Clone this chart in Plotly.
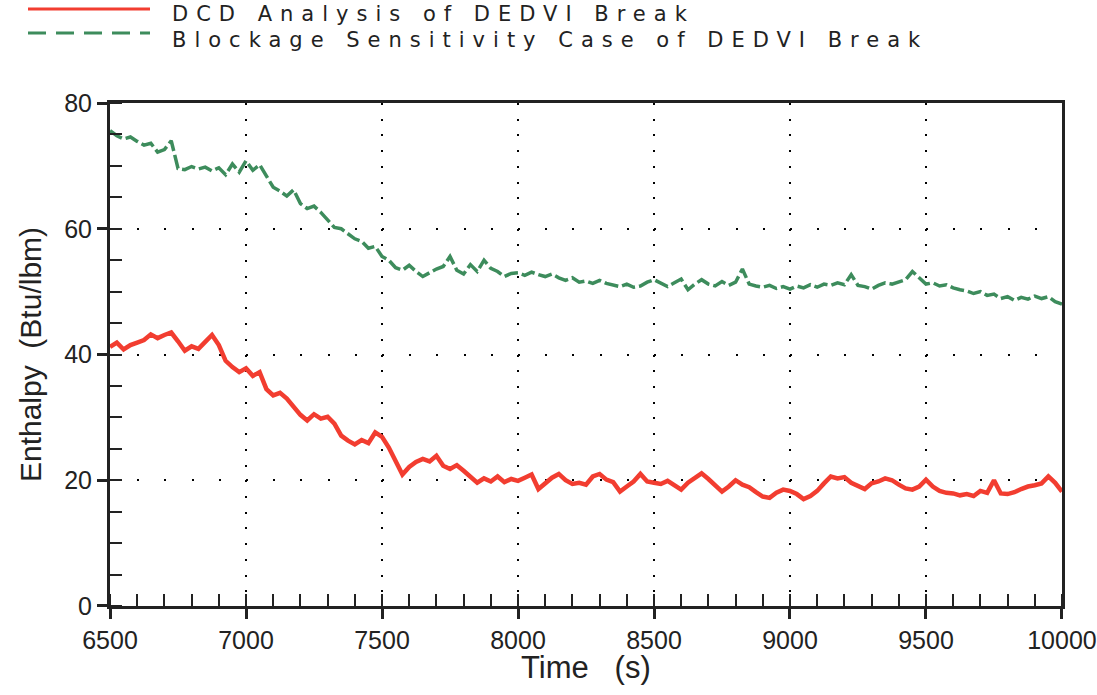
import plotly.graph_objects as go

# sample times (s), every 25 s from 6500 to 10000
time_s = list(range(6500, 10001, 25))

dcd_enthalpy = [
    41.2, 41.9, 40.8, 41.5, 41.9, 42.3, 43.2, 42.6, 43.1, 43.5, 42.1, 40.6, 41.3, 40.9, 42.0, 43.1, 41.5, 39.0, 38.0, 37.2,
    37.8, 36.6, 37.2, 34.5, 33.5, 33.9, 33.0, 31.8, 30.4, 29.5, 30.5, 29.8, 30.1, 29.0, 27.1, 26.3, 25.7, 26.4, 25.9, 27.6,
    26.9, 25.2, 23.0, 20.9, 22.1, 22.9, 23.4, 23.0, 23.9, 22.3, 21.8, 22.4, 21.5, 20.6, 19.6, 20.3, 19.8, 20.6, 19.7, 20.2,
    19.9, 20.4, 20.9, 18.6, 19.5, 20.4, 21.0, 20.0, 19.4, 19.6, 19.3, 20.6, 21.0, 20.1, 19.7, 18.2, 19.0, 19.8, 21.0, 19.8,
    19.6, 19.4, 19.9, 19.2, 18.5, 19.6, 20.4, 21.1, 20.2, 19.3, 18.2, 19.0, 20.0, 19.3, 18.9, 18.1, 17.4, 17.2, 18.0, 18.5,
    18.3, 17.8, 17.0, 17.5, 18.3, 19.5, 20.6, 20.3, 20.5, 19.6, 19.1, 18.6, 19.5, 19.8, 20.3, 20.0, 19.3, 18.7, 18.5, 19.0,
    20.1, 19.0, 18.3, 18.0, 17.9, 17.6, 17.8, 17.5, 18.3, 18.0, 20.0, 17.9, 17.8, 18.1, 18.6, 19.0, 19.2, 19.5, 20.6, 19.6,
    18.2,
]

blockage_enthalpy = [
    75.6, 74.8, 74.3, 74.6, 73.9, 73.3, 73.6, 72.2, 72.6, 74.0, 69.6, 69.4, 69.9, 69.5, 69.8, 69.2, 69.7, 68.6, 70.3, 69.0,
    70.8, 69.3, 70.2, 68.4, 66.6, 66.0, 65.2, 66.2, 64.0, 63.2, 63.6, 62.6, 61.4, 60.2, 60.0, 59.2, 58.4, 58.0, 56.9, 57.2,
    55.6, 55.0, 53.8, 53.4, 54.2, 53.2, 52.4, 53.0, 53.6, 54.0, 55.6, 53.4, 52.8, 54.3, 53.2, 55.0, 53.7, 53.2, 52.4, 52.9,
    53.0, 52.6, 53.1, 52.7, 52.4, 52.8, 52.2, 51.8, 52.2, 51.5, 51.7, 51.3, 51.8, 51.3, 51.0, 50.8, 51.2, 50.7, 50.9, 51.5,
    51.9, 51.3, 50.8, 51.4, 52.0, 50.3, 51.2, 51.9, 51.2, 50.9, 51.6, 51.0, 51.5, 53.6, 51.2, 50.9, 50.7, 51.0, 50.5, 50.8,
    50.4, 50.9, 50.6, 51.1, 50.7, 51.2, 51.0, 51.4, 51.1, 52.7, 51.0, 50.8, 50.4, 51.0, 51.4, 51.2, 51.6, 51.9, 53.2, 52.2,
    51.2, 51.4, 50.9, 51.1, 50.6, 50.3, 50.1, 49.7, 50.0, 49.4, 49.6, 48.9, 49.2, 48.6, 49.1, 48.8, 49.3, 48.9, 49.2, 48.4,
    48.0,
]

series_names = ["DCD Analysis of DEDVI Break", "Blockage Sensitivity Case of DEDVI Break"]
x_ticks = [6500, 7000, 7500, 8000, 8500, 9000, 9500, 10000]
y_ticks = [0, 20, 40, 60, 80]

RED = "#f23d30"
GREEN = "#3d8c5c"
INK = "#222222"
NUM_FONT = "Liberation Sans, Arial, sans-serif"

W, H = 1097, 695
ML, MR, MT, MB = 110, 35, 103, 89
PW, PH = W - ML - MR, H - MT - MB


def px_to_paper_x(px):
    return (px - ML) / PW


def px_to_paper_y(py):
    return 1 + (MT - py) / PH


fig = go.Figure()
fig.add_trace(go.Scatter(x=time_s, y=blockage_enthalpy, mode="lines", name=series_names[1],
                         line=dict(color=GREEN, width=3.5, dash="14px,4px"), showlegend=False))
fig.add_trace(go.Scatter(x=time_s, y=dcd_enthalpy, mode="lines", name=series_names[0],
                         line=dict(color=RED, width=4.5), showlegend=False))

# manual legend
legend_rows = [(series_names[0], RED, "solid", 9, 14), (series_names[1], GREEN, "18px,10px", 33, 40)]
for name, color, dash, line_py, text_py in legend_rows:
    fig.add_shape(type="line", xref="paper", yref="paper",
                  x0=px_to_paper_x(28), x1=px_to_paper_x(150),
                  y0=px_to_paper_y(line_py), y1=px_to_paper_y(line_py),
                  line=dict(color=color, width=3, dash=dash))
    fig.add_annotation(xref="paper", yref="paper", x=px_to_paper_x(170), y=px_to_paper_y(text_py),
                       xanchor="left", yanchor="middle", showarrow=False,
                       text=f'<span style="letter-spacing:8px">{name}</span>',
                       font=dict(family="DejaVu Sans, sans-serif", size=21, color=INK))

# x-axis title placed as annotation
fig.add_annotation(xref="paper", yref="paper", x=px_to_paper_x(586), y=px_to_paper_y(667),
                   xanchor="center", yanchor="middle", showarrow=False,
                   text="Time\u00a0\u00a0\u00a0(s)", font=dict(family=NUM_FONT, size=31, color=INK))

fig.update_layout(
    width=W, height=H,
    margin=dict(l=ML, r=MR, t=MT, b=MB, autoexpand=False),
    paper_bgcolor="white", plot_bgcolor="white",
    showlegend=False,
)

fig.update_xaxes(
    range=[6499.9, 10000.1], tickvals=x_ticks, ticktext=[str(v) for v in x_ticks],
    automargin=False,
    showline=True, linecolor=INK, linewidth=3, mirror=True,
    ticks="outside", ticklen=10, tickwidth=3, tickcolor=INK,
    tickfont=dict(family=NUM_FONT, size=25, color=INK),
    showgrid=True, gridcolor="black", gridwidth=2, griddash="2px,13.72px",
    minor=dict(dtick=100, tick0=6500, ticks="inside", ticklen=12, tickwidth=2, tickcolor=INK, showgrid=False),
    zeroline=False,
)
fig.update_yaxes(
    range=[-0.005, 80.005], tickvals=y_ticks, ticktext=[str(v) for v in y_ticks],
    automargin=False,
    showline=True, linecolor=INK, linewidth=3, mirror=True,
    ticks="outside", ticklen=10, tickwidth=3, tickcolor=INK,
    tickfont=dict(family=NUM_FONT, size=25, color=INK),
    showgrid=True, gridcolor="black", gridwidth=2, griddash="2px,25.2px",
    minor=dict(dtick=5, tick0=0, ticks="inside", ticklen=12, tickwidth=2, tickcolor=INK, showgrid=False),
    zeroline=False,
    title=dict(text="Enthalpy\u00a0\u00a0(Btu/lbm)", font=dict(family=NUM_FONT, size=30, color=INK), standoff=14),
)

assert len(time_s) == len(dcd_enthalpy) == len(blockage_enthalpy)
fig.write_html("out.html")
